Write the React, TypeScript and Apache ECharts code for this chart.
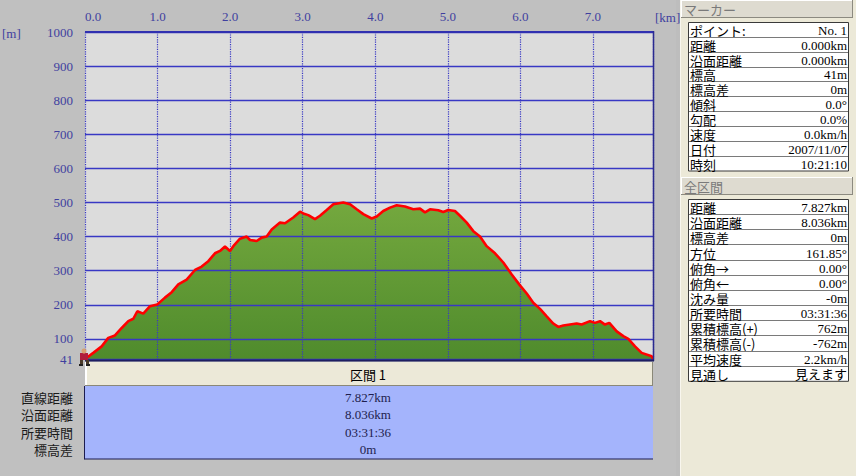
import React, { useEffect, useRef } from "react";
import * as echarts from "echarts";

// ---- data ----
const distKm = [
  0, 0.114, 0.23, 0.321, 0.413, 0.506, 0.597, 0.666, 0.721, 0.803, 0.896, 0.996,
  1.102, 1.195, 1.286, 1.401, 1.516, 1.608, 1.699, 1.791, 1.86, 1.929, 1.998,
  2.044, 2.136, 2.228, 2.274, 2.366, 2.435, 2.504, 2.573, 2.687, 2.756, 2.87, 2.963,
  3.008, 3.077, 3.169, 3.238, 3.331, 3.422, 3.559, 3.652, 3.744, 3.835, 3.951,
  4.02, 4.11, 4.203, 4.295, 4.409, 4.524, 4.616, 4.685, 4.754, 4.868, 4.937,
  5.006, 5.098, 5.167, 5.26, 5.351, 5.443, 5.535, 5.65, 5.764, 5.88, 5.994,
  6.087, 6.177, 6.27, 6.362, 6.453, 6.522, 6.591, 6.683, 6.775, 6.844, 6.959,
  7.028, 7.097, 7.165, 7.225, 7.327, 7.418, 7.487, 7.579, 7.671, 7.809, 7.827,
];
const elevM = [
  41, 59, 78, 103, 110, 132, 152, 159, 181, 174, 196, 201,
  221, 237, 260, 274, 302, 312, 328, 351, 358, 371, 358,
  372, 394, 400, 390, 387, 397, 400, 421, 441, 439, 456, 473,
  468, 463, 451, 461, 478, 495, 500, 495, 480, 466, 453,
  459, 475, 485, 492, 488, 480, 482, 471, 480, 477, 472,
  478, 475, 461, 441, 416, 400, 372, 351, 324, 289, 257,
  233, 206, 188, 166, 145, 135, 139, 142, 145, 142, 152,
  147, 152, 142, 147, 122, 108, 100, 78, 59, 49, 41,
];
const xMin = 0;
const xMax = 7.827;
const xInterval = 1;
const yTicks = [41, 100, 200, 300, 400, 500, 600, 700, 800, 900, 1000];

const markerTitle = "マーカー";
const markerLabels = ["ポイント:", "距離", "沿面距離", "標高", "標高差", "傾斜", "勾配", "速度", "日付", "時刻"];
const markerValues = ["No. 1", "0.000km", "0.000km", "41m", "0m", "0.0°", "0.0%", "0.0km/h", "2007/11/07", "10:21:10"];

const sectionTitle = "全区間";
const sectionLabels = ["距離", "沿面距離", "標高差", "方位", "俯角→", "俯角←", "沈み量", "所要時間", "累積標高(+)", "累積標高(-)", "平均速度", "見通し"];
const sectionValues = ["7.827km", "8.036km", "0m", "161.85°", "0.00°", "0.00°", "-0m", "03:31:36", "762m", "-762m", "2.2km/h", "見えます"];

const intervalTitle = "区間 1";
const intervalLabels = ["直線距離", "沿面距離", "所要時間", "標高差"];
const intervalValues = ["7.827km", "8.036km", "03:31:36", "0m"];

// ---- styling ----
const JP = '"Noto Sans CJK JP", "Noto Sans", sans-serif';
const SERIF = '"Liberation Serif", "DejaVu Serif", "Noto Sans CJK JP", serif';
const AXIS_TXT = "#3f3f9f";
const GRID_BLUE = "#3838c4";

function txt(x: number, y: number, text: string, font: string, fill: string, align = "left", z = 20) {
  return {
    type: "text",
    x,
    y,
    z,
    style: {
      text,
      font,
      fill,
      lineHeight: 12,
      textAlign: align,
      align,
      textVerticalAlign: "middle",
      verticalAlign: "middle",
    },
  };
}

function tab(y: number, title: string) {
  return [
    { type: "rect", z: 10, shape: { x: 681, y, width: 172, height: 18 }, style: { fill: "#dedbd0", stroke: null } },
    { type: "line", z: 11, shape: { x1: 681, y1: y + 0.5, x2: 853, y2: y + 0.5 }, style: { stroke: "#ffffff", lineWidth: 1 } },
    { type: "line", z: 11, shape: { x1: 681.5, y1: y, x2: 681.5, y2: y + 18 }, style: { stroke: "#ffffff", lineWidth: 1 } },
    { type: "line", z: 11, shape: { x1: 681, y1: y + 17.5, x2: 853, y2: y + 17.5 }, style: { stroke: "#8c8a80", lineWidth: 1 } },
    { type: "line", z: 11, shape: { x1: 852.5, y1: y, x2: 852.5, y2: y + 18 }, style: { stroke: "#8c8a80", lineWidth: 1 } },
    txt(684, y + 9.5, title, "13px " + JP, "#7a7a7a"),
  ];
}

function table(top: number, rowH: number, labels: string[], values: string[]) {
  const els: any[] = [];
  const h = rowH * labels.length;
  els.push({ type: "rect", z: 10, shape: { x: 688.5, y: top + 0.5, width: 160, height: h }, style: { fill: "#ffffff", stroke: "#3a3a3a", lineWidth: 1 } });
  labels.forEach((l, i) => {
    const y = top + rowH * i;
    if (i > 0) {
      const yy = Math.round(y) + 0.5;
      els.push({ type: "line", z: 11, shape: { x1: 689, y1: yy, x2: 848, y2: yy }, style: { stroke: "#7a7a7a", lineWidth: 1 } });
    }
    els.push(txt(690, y + rowH / 2 + 1, l, "13px " + JP, "#000000"));
    els.push(txt(847, y + rowH / 2 + 1, values[i], "13px " + SERIF, "#000000", "right"));
  });
  return els;
}

function hiker() {
  return {
    type: "group",
    z: 100,
    children: [
      { type: "rect", z: 100, shape: { x: 80, y: 353, width: 8, height: 7 }, style: { fill: "#b01c3c" } },
      { type: "circle", z: 101, shape: { cx: 84, cy: 351, r: 2.5 }, style: { fill: "#d8a070" } },
      { type: "rect", z: 100, shape: { x: 80, y: 360, width: 3, height: 5 }, style: { fill: "#4a3a28" } },
      { type: "rect", z: 100, shape: { x: 86, y: 360, width: 3, height: 5 }, style: { fill: "#4a3a28" } },
      { type: "rect", z: 100, shape: { x: 79, y: 364, width: 4, height: 2 }, style: { fill: "#202020" } },
      { type: "rect", z: 100, shape: { x: 86, y: 364, width: 4, height: 2 }, style: { fill: "#202020" } },
    ],
  };
}

export default function App() {
  const ref = useRef<HTMLDivElement>(null);
  useEffect(() => {
    if (!ref.current) return;
    const chart = echarts.init(ref.current, null, { renderer: "svg" });
    const data = distKm.map((d, i) => [d, elevM[i]]);

    const graphic: any[] = [
      // right side panel
      { type: "rect", z: 1, shape: { x: 676, y: 0, width: 4, height: 476 }, style: { fill: "#bdbdbd" } },
      { type: "rect", z: 1, shape: { x: 680, y: 0, width: 176, height: 476 }, style: { fill: "#ece9d8" } },
      { type: "line", z: 2, shape: { x1: 680.5, y1: 0, x2: 680.5, y2: 476 }, style: { stroke: "#f8f6ee", lineWidth: 1 } },
      ...tab(0, markerTitle),
      ...table(22, 14.85, markerLabels, markerValues),
      ...tab(177, sectionTitle),
      ...table(199, 15.15, sectionLabels, sectionValues),
      // axis unit labels
      txt(2, 33, "[m]", "13px " + SERIF, AXIS_TXT),
      txt(655, 17, "[km]", "13px " + SERIF, AXIS_TXT),
      // plot frame
      { type: "line", z: 50, shape: { x1: 85, y1: 32, x2: 654, y2: 32 }, style: { stroke: "#3030b0", lineWidth: 2 } },
      { type: "line", z: 50, shape: { x1: 653.5, y1: 31, x2: 653.5, y2: 361 }, style: { stroke: "#2a2a90", lineWidth: 1.5 } },
      { type: "line", z: 50, shape: { x1: 85, y1: 360.5, x2: 654, y2: 360.5 }, style: { stroke: "#1e1e60", lineWidth: 2 } },
      // interval header bar
      { type: "rect", z: 20, shape: { x: 85, y: 362, width: 568, height: 24 }, style: { fill: "#ece9d8" } },
      { type: "line", z: 21, shape: { x1: 86, y1: 362, x2: 86, y2: 386 }, style: { stroke: "#ffffff", lineWidth: 2 } },
      { type: "line", z: 21, shape: { x1: 85, y1: 385.5, x2: 653, y2: 385.5 }, style: { stroke: "#8a8878", lineWidth: 1 } },
      { type: "line", z: 21, shape: { x1: 652.5, y1: 362, x2: 652.5, y2: 386 }, style: { stroke: "#8a8878", lineWidth: 1 } },
      txt(368, 374.5, intervalTitle, "13px " + JP, "#000000", "center", 22),
      // interval value box
      { type: "rect", z: 20, shape: { x: 85, y: 386, width: 568, height: 73 }, style: { fill: "#a4b4fc" } },
      { type: "line", z: 21, shape: { x1: 84.5, y1: 386, x2: 84.5, y2: 459.5 }, style: { stroke: "#1c1c50", lineWidth: 1 } },
      { type: "line", z: 21, shape: { x1: 84.5, y1: 459, x2: 653, y2: 459 }, style: { stroke: "#1c1c50", lineWidth: 1 } },
      hiker(),
    ];
    intervalLabels.forEach((l, i) => {
      const y = 397 + i * 17.6;
      graphic.push(txt(73, y, l, "13px " + JP, "#1a1a1a", "right", 22));
      graphic.push(txt(368, y, intervalValues[i], "13px " + SERIF, "#1e1e4e", "center", 22));
    });

    chart.setOption({
      animation: false,
      backgroundColor: "#c0c0c0",
      textStyle: { fontFamily: SERIF },
      grid: {
        left: 85,
        top: 32,
        width: 568,
        height: 327,
        show: true,
        backgroundColor: "#dcdcdc",
        borderWidth: 0,
      },
      xAxis: {
        type: "value",
        position: "top",
        min: xMin,
        max: xMax,
        interval: xInterval,
        z: 3,
        axisLine: { show: false },
        axisTick: { show: false },
        axisLabel: {
          color: AXIS_TXT,
          fontSize: 13,
          fontFamily: SERIF,
          margin: 9,
          showMaxLabel: false,
          alignMinLabel: "left",
          formatter: (v: number) => v.toFixed(1),
        },
        splitLine: { show: true, lineStyle: { color: GRID_BLUE, type: "dotted", width: 1.2 } },
      },
      yAxis: {
        type: "value",
        min: yTicks[0],
        max: yTicks[yTicks.length - 1],
        z: 3,
        axisLine: { show: false },
        axisTick: { show: false, customValues: yTicks },
        axisLabel: {
          customValues: yTicks,
          color: AXIS_TXT,
          fontSize: 13,
          fontFamily: SERIF,
          margin: 12,
          formatter: (v: number) => String(v),
        },
        splitLine: { show: true, lineStyle: { color: GRID_BLUE, width: 1.3 } },
      },
      graphic: { elements: graphic },
      series: [
        {
          type: "line",
          data,
          z: 1,
          showSymbol: false,
          symbol: "none",
          lineStyle: { width: 0 },
          areaStyle: {
            opacity: 1,
            color: new echarts.graphic.LinearGradient(0, 0, 0, 1, [
              { offset: 0, color: "#74a83e" },
              { offset: 1, color: "#4f8b2c" },
            ]),
          },
          silent: true,
        },
        {
          type: "line",
          data,
          z: 5,
          showSymbol: false,
          symbol: "none",
          lineStyle: { width: 2.6, color: "#ff0000" },
          silent: true,
        },
      ],
    });
    return () => chart.dispose();
  }, []);
  return <div ref={ref} style={{ position: "fixed", left: 0, top: 0, width: 856, height: 476 }} />;
}
